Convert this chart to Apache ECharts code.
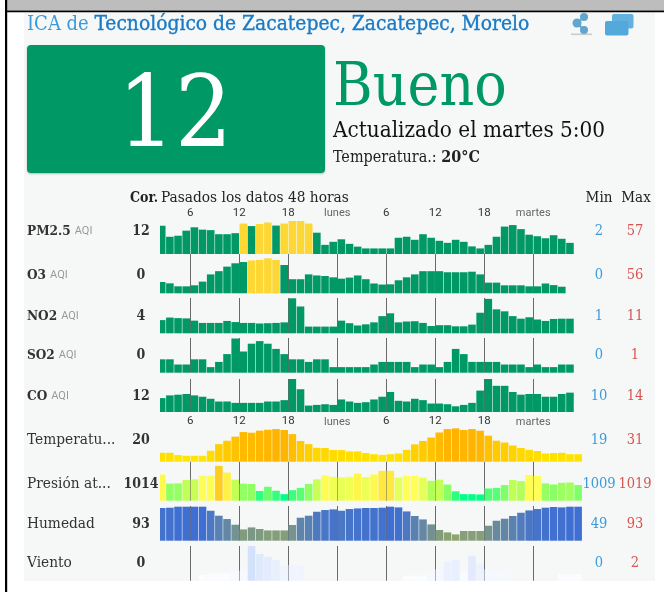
<!DOCTYPE html>
<html><head><meta charset="utf-8">
<style>html,body{margin:0;padding:0;background:#fff}#c{width:664px;height:592px;filter:blur(0.4px)}</style>
<script src="https://cdn.jsdelivr.net/npm/echarts@6/dist/echarts.min.js"></script>
</head><body><div id="c"></div>
<script>
const SERIF = '"DejaVu Serif Condensed","DejaVu Serif",serif';
const hours = [2,3,4,5,6,7,8,9,10,11,12,13,14,15,16,17,18,19,20,21,22,23,24,25,26,27,28,29,30,31,32,33,34,35,36,37,38,39,40,41,42,43,44,45,46,47,48,49,50,51,52,53];
const tickHours = [6,12,18,24,30,36,42,48];
const tickLabels = ['6','12','18','lunes','6','12','18','martes'];
const rowNames = ['PM2.5','O3','NO2','SO2','CO','Temperatu...','Presión at...','Humedad','Viento'];
const rowUnits = ['AQI','AQI','AQI','AQI','AQI','','','',''];
const corValues = ['12','0','4','0','12','20','1014','93','0'];
const minValues = ['2','0','1','0','10','19','1009','49','0'];
const maxValues = ['57','56','11','1','14','31','1019','93','2'];
const pm25 = [47.7,26,28,38,44.6,40,39,31,31,33,52,47,51,54,48,52,57,57,52,34,10,16,21,12,6.5,3,3,3,3,24,26,20,31,24,18,14,20,16,7,3,10,26,46,49,41,30,27,23,29,22,14];
const o3 = [11.8,9.3,3.7,3.7,5.6,12.5,26,32,40.5,46.7,49,52,53,56,53,43.5,17,17,26,24,23,20.5,18,20,24,17,9,7,7.5,15,20.5,26,32,32,32,30,30,30,31,26,10.6,10.6,5.6,5.6,5.6,3.7,3.7,9,6,3];
const no2 = [3.3,4.2,4,3.9,3.1,2.3,2.3,2.3,3,2.6,2.3,2.3,2.1,2.2,2.3,2.5,11,8.1,1,1,1,1,3.1,2.2,1.4,1.8,2.5,4.7,5.7,2.5,2.8,2.9,2.3,1.2,1.5,1.5,1.1,1.1,1.7,5.9,10.8,7.1,6.4,4.7,3.8,4.3,3.5,3,3.7,3.8,3.8];
const so2 = [.4,.4,.2,.2,.4,.4,.1,.3,.6,1.2,.7,1,1.1,1,.8,.6,.4,.4,.3,.4,.4,.1,.1,.1,.1,.1,.2,.3,.3,.3,.3,.1,.2,.2,.1,.3,.8,.6,.3,.3,.3,.3,.2,.2,.2,.1,.2,.1,.1,.2,.2];
const co = [11.2,11.6,11.7,11.8,11.6,11.4,11.1,10.7,10.7,10.5,10.5,10.5,10.5,10.7,10.7,10.9,14,12.5,10.1,10.2,10.3,10.2,11,10.7,10.5,10.6,11,11.4,12.1,10.8,10.7,11.1,10.9,10.4,10.4,10.3,10,10.2,10.5,12.3,14,13,13,12.1,11.7,11.8,11.8,11.4,11.4,11.8,12];
const temperatura = [20.3,20.3,19.3,19,19,19,21.2,24.1,25.6,27.4,29.4,29.1,30,30.4,30.7,30.3,28.5,25.5,24.1,22.5,22.4,21.5,21.5,20.9,20.9,20.2,19.7,19.4,19.7,20,21.6,24,25.5,27,29.2,30.7,31,30.3,30.7,30,27.8,25.6,24.8,23.5,22.4,21.6,21.1,20,20.2,20.3,19.7,19.7];
const presion = [1016,1012.8,1012.9,1014.1,1014.3,1015.6,1015.6,1019,1016.7,1014.2,1012.8,1012.7,1010.2,1011.7,1010.3,1009.1,1010.5,1011.3,1012.7,1014.3,1015.7,1015.2,1015,1015.2,1016.3,1015.1,1016,1017.3,1017.3,1014.9,1015.5,1015.5,1014.9,1013.8,1014.2,1012.5,1010.1,1009.1,1009.1,1009,1011.1,1011.3,1012.3,1014.1,1013.7,1015.8,1015.5,1012.9,1012.5,1013.1,1013.2,1012.3];
const humedad = [90.9,91.4,93,93,93,93,86.6,78.7,73.4,64.4,56.9,60.1,57.6,55.3,55.3,55.3,63.9,75.5,78.7,85,87.7,88.7,86.6,89.3,90.3,90.9,90.9,91.4,93,91.9,85.5,78.2,72.8,64.9,56,52.2,49,54.4,54.4,54.4,62.8,70.7,73.9,78.2,83.4,87.1,89.3,91.4,92.5,91.9,93,93];
const viento = [0,0,0,0,0,.33,.42,.42,.42,.58,.58,2,1.54,1.38,1.19,.9,.9,.9,0,0,0,0,0,0,0,0,0,0,0,0,.29,.29,.29,.65,.65,1.1,1.19,.46,1.44,1,.65,.65,.65,0,0,0,0,0,0,.38,.38,.38];
const rowData = [pm25,o3,no2,so2,co,temperatura,presion,humedad,viento];
// value at the bottom / top of each row's strip (the strip does not start at zero)
const yMins = [-8,-9.3,-1.37,-0.115,9.16,16.4,1006.8,39,0];
const yMaxs = [57,56,11,1.2,14,31,1019,93,2];

// layout
const gridBottom = [254,293.3,333.3,372.7,412,461.7,500.7,540.7,580.7];
const gridHeight = [33,35,35,34.2,33,33.3,34.7,34,34.7];
const tickTop = [220,259,298,338,379,427,466,506,546];
const labelled = [true,false,false,false,false,true,false,false,false];
const rowY = [231,275.5,316,355.5,396,440,484,524,563];

function hex(c){return [parseInt(c.slice(1,3),16),parseInt(c.slice(3,5),16),parseInt(c.slice(5,7),16)];}
function ramp(stops,v){
  if(v<=stops[0][0])return stops[0][1];
  for(let i=1;i<stops.length;i++){
    if(v<=stops[i][0]){
      const t=(v-stops[i-1][0])/(stops[i][0]-stops[i-1][0]);
      const a=hex(stops[i-1][1]),b=hex(stops[i][1]);
      return 'rgb('+a.map((x,k)=>Math.round(x+(b[k]-x)*t)).join(',')+')';
    }
  }
  return stops[stops.length-1][1];
}
const aqi = v=> v>50?'#fdd835':'#009966';
const colorFns = [aqi,aqi,aqi,aqi,aqi,
  v=>ramp([[19,'#ffe600'],[31,'#ffb300']],v),
  v=>ramp([[1009,'#00ff88'],[1012.5,'#88ff66'],[1014,'#bbff55'],[1015.5,'#ffff55'],[1017,'#ffee44'],[1019,'#ffcc22']],v),
  v=>ramp([[49,'#90a56c'],[93,'#3f6fd2']],v),
  v=>v<=0?'rgba(255,255,255,0)':ramp([[0,'#ffffff'],[.4,'#fbfcff'],[2,'#d4e1fb']],v)
];

const grids=[],xAxes=[],yAxes=[],series=[];
rowData.forEach((vals,r)=>{
  grids.push({left:160,width:422.2,top:gridBottom[r]-gridHeight[r],height:gridHeight[r]});
  xAxes.push({gridIndex:r,type:'value',min:2.29,max:54,position:labelled[r]?'top':'bottom',
    axisLine:{show:false},splitLine:{show:false},
    axisTick:{show:true,inside:true,length:gridBottom[r]-tickTop[r],customValues:tickHours,lineStyle:{color:'#6a6a6a',width:1}},
    axisLabel:{show:labelled[r],customValues:tickHours,margin:r===0?2:1,hideOverlap:false,
      fontFamily:'Roboto,sans-serif',fontSize:11.5,
      color:'#333',
      formatter:v=>(v===24||v===48)?'{d|'+tickLabels[tickHours.indexOf(v)]+'}':tickLabels[tickHours.indexOf(v)],
      rich:{d:{fontSize:11,color:'#666',fontFamily:'Roboto,sans-serif'}}}
  });
  // bars grow from the strip's floor: the axis counts from yMins[r]
  yAxes.push({gridIndex:r,type:'value',min:0,max:yMaxs[r]-yMins[r],show:false});
  series.push({type:'bar',name:rowNames[r],xAxisIndex:r,yAxisIndex:r,barWidth:7.6,animation:false,silent:true,clip:true,
    data:vals.map((v,i)=>({value:[hours[i]+0.5,v-yMins[r]],itemStyle:{color:colorFns[r](v)}}))});
});

const graphic=[];
const txt=(x,y,text,size,fill,opt)=>{opt=opt||{};graphic.push({type:'text',x,y,z:opt.z||90,silent:true,
  style:{text,fontFamily:opt.family||SERIF,fontSize:size,fontWeight:opt.weight||'normal',fill,align:opt.align||'left',verticalAlign:'middle',rich:opt.rich}});};
const rect=(x,y,w,h,fill,z,r)=>graphic.push({type:'rect',silent:true,z:z,shape:{x,y,width:w,height:h,r:r||0},style:{fill}});
rect(0,0,664,592,'#ffffff',-5);
rect(24,12,631,569,'#f6f8f8',-4);
rect(7,0,657,10.5,'#bdbdbd',-3);
rect(5,10.5,659,1.8,'#000000',-2);
rect(5,0,2.2,592,'#000000',-2);
rect(154,215,6,366,'#f6f8f8',50);

// header
txt(27,25,'{a|ICA de }{b|Tecnológico de Zacatepec, Zacatepec, Morelos}',20,'#3b9ad9',{rich:{
  a:{fontFamily:SERIF,fontSize:20,fill:'#3b9ad9'},
  b:{fontFamily:SERIF,fontSize:20.8,fill:'#1a7ac4',stroke:'#1a7ac4',lineWidth:0.35}
}});
rect(530,13,38,26,'#f6f8f8',91);
// icons
[[584,17,4],[577,23,4.5],[584,30,4]].forEach(c=>graphic.push({type:'circle',silent:true,z:92,shape:{cx:c[0],cy:c[1],r:c[2]},style:{fill:'#62a6cf'}}));
graphic.push({type:'polyline',silent:true,z:91,shape:{points:[[584,17],[577,23],[584,30]]},style:{stroke:'#62a6cf',lineWidth:2,fill:'none'}});
rect(571,33.5,21,1.6,'#c9cdcd',91);
rect(612,14,21.5,14.5,'#62b1de',92,2);
rect(605,21,23.5,14.5,'#52a9dc',93,2);

// big box
graphic.push({type:'rect',silent:true,z:-1,shape:{x:27,y:45,width:298,height:128,r:4},style:{fill:'#009966',shadowBlur:2,shadowColor:'rgba(0,0,0,.25)',shadowOffsetY:1}});
txt(175,120,'12',100,'#ffffff',{align:'center'});
txt(333,89,'Bueno',60,'#009966');
txt(333,131,'Actualizado el martes 5:00',22.3,'#111111');
txt(333,158,'Temperatura.: {b|20°C}',16,'#222222',{rich:{b:{fontFamily:SERIF,fontSize:16,fontWeight:'bold',fill:'#222'}}});

// table head
txt(130,198,'Cor.',14,'#222222',{weight:'bold'});
txt(161,198,'Pasados los datos 48 horas',15.3,'#222222');
txt(599,198,'Min',15,'#222222',{align:'center'});
txt(636,198,'Max',15,'#222222',{align:'center'});

rowNames.forEach((n,r)=>{
  if(rowUnits[r]!==''){
    txt(27,rowY[r],'{a|'+n+'} {b|'+rowUnits[r]+'}',14,'#333',{rich:{
      a:{fontFamily:SERIF,fontSize:13.5,fontWeight:'bold',fill:'#333'},
      b:{fontFamily:'Roboto,sans-serif',fontSize:11,fill:'#999'}}});
  } else {
    txt(27,rowY[r],n,15.3,'#333');
  }
  txt(141,rowY[r],corValues[r],14,'#333',{weight:'bold',align:'center'});
  txt(599,rowY[r],minValues[r],14.5,'#3b9ad9',{align:'center'});
  txt(635,rowY[r],maxValues[r],14.5,'#d9534f',{align:'center'});
});

const chart=echarts.init(document.getElementById('c'),null,{renderer:'canvas'});
chart.setOption({animation:false,grid:grids,xAxis:xAxes,yAxis:yAxes,series,graphic:{elements:graphic}});
</script></body></html>
